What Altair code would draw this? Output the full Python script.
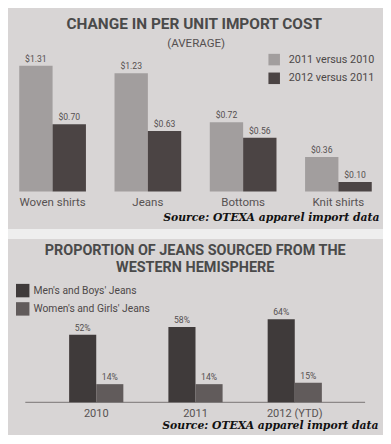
import altair as alt
import pandas as pd

# ---------------- data ----------------
categories = ["Woven shirts", "Jeans", "Bottoms", "Knit shirts"]
series_top = ["2011 versus 2010", "2012 versus 2011"]
change_2011_vs_2010 = [1.31, 1.23, 0.72, 0.36]
change_2012_vs_2011 = [0.70, 0.63, 0.56, 0.10]

years = ["2010", "2011", "2012 (YTD)"]
series_bottom = ["Men's and Boys' Jeans", "Women's and Girls' Jeans"]
mens_boys = [52, 58, 64]
womens_girls = [14, 14, 15]

title_top = "CHANGE IN PER UNIT IMPORT COST"
subtitle_top = "(AVERAGE)"
title_bottom_1 = "PROPORTION OF JEANS SOURCED FROM THE"
title_bottom_2 = "WESTERN HEMISPHERE"
source_text = "Source: OTEXA apparel import data"

# ---------------- layout helpers ----------------
S = 0.96
W = 375
H1 = 221
H2 = 196


def P(v):
    return round(v * S, 1)


SANS = "Roboto"
SERIF = "DejaVu Serif"
BG = "#d8d5d5"
BAND = "#eeeeee"

rows1 = []
for c, a, b in zip(categories, change_2011_vs_2010, change_2012_vs_2011):
    rows1.append({"cat": c, "series": series_top[0], "value": a, "label": f"${a:.2f}"})
    rows1.append({"cat": c, "series": series_top[1], "value": b, "label": f"${b:.2f}"})
df1 = pd.DataFrame(rows1)

rows2 = []
for y, m, w in zip(years, mens_boys, womens_girls):
    rows2.append({"year": y, "group": series_bottom[0], "pct": m, "label": f"{m}%"})
    rows2.append({"year": y, "group": series_bottom[1], "pct": w, "label": f"{w}%"})
df2 = pd.DataFrame(rows2)


def text_chart(txt, x, y, size, color="#4a4a4a", weight="normal", font=SANS,
               align="center", style="normal"):
    return alt.Chart(pd.DataFrame({"t": [txt]})).mark_text(
        font=font, fontSize=size, fontWeight=weight, fontStyle=style,
        color=color, align=align, baseline="middle"
    ).encode(x=alt.value(x), y=alt.value(y), text="t:N")


# ---------------- top panel ----------------
XS1 = alt.Scale(type="band", paddingInner=0.3, paddingOuter=0.118)
X1 = alt.X("cat:N", sort=categories, axis=None, scale=XS1)
XO1 = alt.XOffset("series:N", sort=series_top,
                  scale=alt.Scale(type="band", paddingInner=0, paddingOuter=0))
YS1 = alt.Scale(domain=[-0.39, 1.91], nice=False, zero=False)
Y1 = alt.Y("value:Q", axis=None, scale=YS1)

base1 = alt.Chart(df1)
bars1 = base1.mark_bar().encode(
    x=X1, xOffset=XO1, y=Y1, y2=alt.datum(0),
    color=alt.Color("series:N", sort=series_top,
                    scale=alt.Scale(domain=series_top, range=["#a29e9e", "#4b4444"]),
                    legend=alt.Legend(orient="none", legendX=P(271), legendY=P(47.5),
                                      title=None, symbolType="square",
                                      symbolSize=(12 * S) ** 2, symbolStrokeWidth=0,
                                      symbolOpacity=1, labelFont=SANS,
                                      labelFontSize=P(11.3), labelColor="#4d4848",
                                      labelOffset=P(9), rowPadding=P(7), padding=0)),
)
vals1 = base1.mark_text(baseline="bottom", dy=-P(2), font=SANS, fontSize=P(9),
                        color="#555050").encode(x=X1, xOffset=XO1, y=Y1, text="label:N")
cats1 = alt.Chart(pd.DataFrame({"cat": categories})).mark_text(
    font=SANS, fontSize=P(12), color="#575252", baseline="middle"
).encode(x=X1, y=alt.value(P(203)), text="cat:N")

panel1 = alt.layer(
    bars1, vals1, cats1,
    text_chart(title_top, P(194), P(17), P(16), weight="bold"),
    text_chart(subtitle_top, P(196), P(37.5), P(12), color="#555050"),
    text_chart(source_text, P(387), P(219), 10.8, color="#111111", weight="bold",
               font=SERIF, align="right", style="italic"),
).properties(width=W, height=H1)

# ---------------- bottom panel ----------------
XS2 = alt.Scale(type="band", paddingInner=0.454, paddingOuter=0.616)
X2 = alt.X("year:N", sort=years, axis=None, scale=XS2)
XO2 = alt.XOffset("group:N", sort=series_bottom,
                  scale=alt.Scale(type="band", paddingInner=0, paddingOuter=0))
YS2 = alt.Scale(domain=[-25.2, 125.9], nice=False, zero=False)
Y2 = alt.Y("pct:Q", axis=None, scale=YS2)

base2 = alt.Chart(df2)
bars2 = base2.mark_bar().encode(
    x=X2, xOffset=XO2, y=Y2, y2=alt.datum(0),
    color=alt.Color("group:N", sort=series_bottom,
                    scale=alt.Scale(domain=series_bottom, range=["#3f3a3a", "#615b5b"]),
                    legend=alt.Legend(orient="none", legendX=P(8), legendY=P(46.5),
                                      title=None, symbolType="square",
                                      symbolSize=(14 * S) ** 2, symbolStrokeWidth=0,
                                      symbolOpacity=1, labelFont=SANS,
                                      labelFontSize=P(10.7), labelColor="#4d4848",
                                      labelOffset=P(4), rowPadding=P(4.5), padding=0)),
)
vals2 = base2.mark_text(baseline="bottom", dy=-P(2), font=SANS, fontSize=P(9),
                        color="#555050").encode(x=X2, xOffset=XO2, y=Y2, text="label:N")
rule2 = alt.Chart(pd.DataFrame({"z": [0]})).mark_rule(color="#8c8888", strokeWidth=1.2).encode(
    y=alt.Y("z:Q", scale=YS2, axis=None),
    x=alt.value(P(18)), x2=alt.value(P(372)))
cats2 = alt.Chart(pd.DataFrame({"year": years})).mark_text(
    font=SANS, fontSize=P(11.5), color="#575252", baseline="middle"
).encode(x=X2, y=alt.value(P(182)), text="year:N")

panel2 = alt.layer(
    rule2, bars2, vals2, cats2,
    text_chart(title_bottom_1, P(195), P(12), P(15), weight="bold"),
    text_chart(title_bottom_2, P(195), P(30), P(15), weight="bold"),
    text_chart(source_text, P(386), P(195), 10.8, color="#111111", weight="bold",
               font=SERIF, align="right", style="italic"),
).properties(width=W, height=H2)

chart = alt.vconcat(panel1, panel2, spacing=10, padding=0).resolve_scale(
    x="independent", y="independent", color="independent", xOffset="independent"
).resolve_legend(color="independent").configure(background=BAND).configure_view(
    fill=BG, strokeWidth=0)

chart.save("out.html", embed_options={"renderer": "svg", "actions": False})
